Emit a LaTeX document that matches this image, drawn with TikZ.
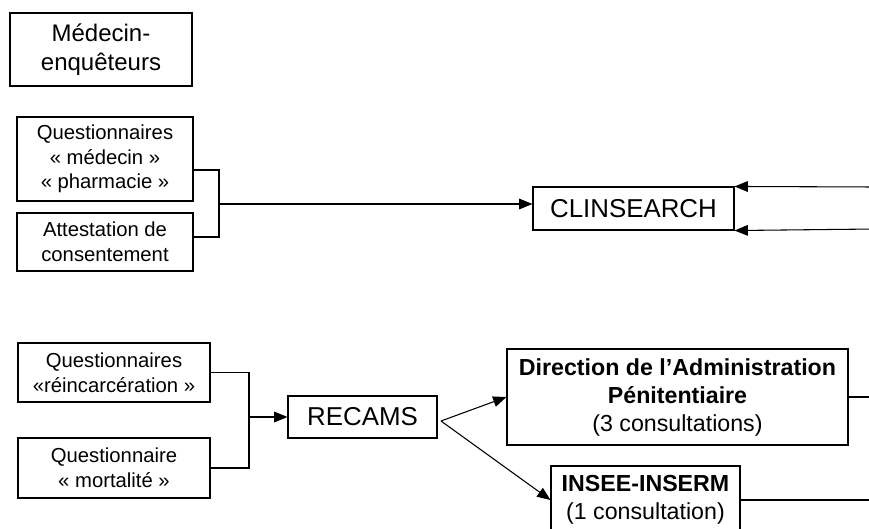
\documentclass[tikz,border=0pt]{standalone}
\usepackage{fontspec}
\setmainfont{Liberation Sans}
\usetikzlibrary{arrows.meta}

\tikzset{
  box/.style={draw, line width=0.8pt, align=center, inner sep=0pt},
  arr/.style={-{Triangle[length=10pt,width=8pt]}},
  big/.style={font=\fontsize{19.4}{23}\selectfont},
  mid/.style={font=\fontsize{17.4}{21}\selectfont},
  small/.style={font=\fontsize{15.2}{18.5}\selectfont}
}

\begin{document}
\begin{tikzpicture}[x=0.75pt, y=-0.75pt, line width=0.8pt]
    \useasboundingbox (0,0) rectangle (869,529);

    % 方框
    \node[box, font=\fontsize{18}{21.75}\selectfont, minimum width=136.5pt, minimum height=54.75pt] (med) at (101,49.5) {Médecin-\\enquêteurs};
    \node[box, small, minimum width=132pt, minimum height=63pt] (qmp) at (105,159) {Questionnaires\\« médecin »\\« pharmacie »};
    \node[box, small, minimum width=132pt, minimum height=43.5pt] (att) at (105,242) {Attestation de\\consentement};
    \node[box, big, minimum width=150.75pt, minimum height=32.25pt] (clin) at (633.5,208.5) {CLINSEARCH};

    \node[box, small, minimum width=144pt, minimum height=44.25pt] (qre) at (114,372.5) {Questionnaires\\«réincarcération »};
    \node[box, small, minimum width=144pt, minimum height=45pt] (qmo) at (114,468) {Questionnaire\\« mortalité »};
    \node[box, big, minimum width=111.75pt, minimum height=31.5pt] (rec) at (362.5,417) {RECAMS};
    \node[box, mid, minimum width=255.75pt, minimum height=72pt] (dap) at (677.5,397) {\textbf{Direction de l’Administration}\\\textbf{Pénitentiaire}\\(3 consultations)};
    \node[box, mid, minimum width=141.75pt, minimum height=51pt] (ins) at (645.5,500) {\textbf{INSEE-INSERM}\\(1 consultation)};

    % 点
    \coordinate (j1) at (219,204);
    \coordinate (j2) at (249,417);
    \coordinate (s) at (441,421);
    \coordinate (r1) at (875,187);
    \coordinate (r2) at (875,229);
    \coordinate (r3) at (875,397);
    \coordinate (r4) at (875,500);

    % 画线
    \draw ([yshift=-8.25pt]qmp.east) -| (j1) |- ([yshift=3.75pt]att.east);
    \draw[arr] (j1) -- (j1 -| clin.west);
    \draw[arr] (r1) -- (clin.north east);
    \draw[arr] (r2) -- (clin.south east);

    \draw (qre.east) -| (j2) |- (qmo.east);
    \draw[arr] (j2) -- (rec.west);
    \draw[arr] (s) -- (dap.west);
    \draw[arr] (s) -- (ins.west);
    \draw (dap.east) -- (r3);
    \draw (ins.east) -- (r4);
\end{tikzpicture}
\end{document}
